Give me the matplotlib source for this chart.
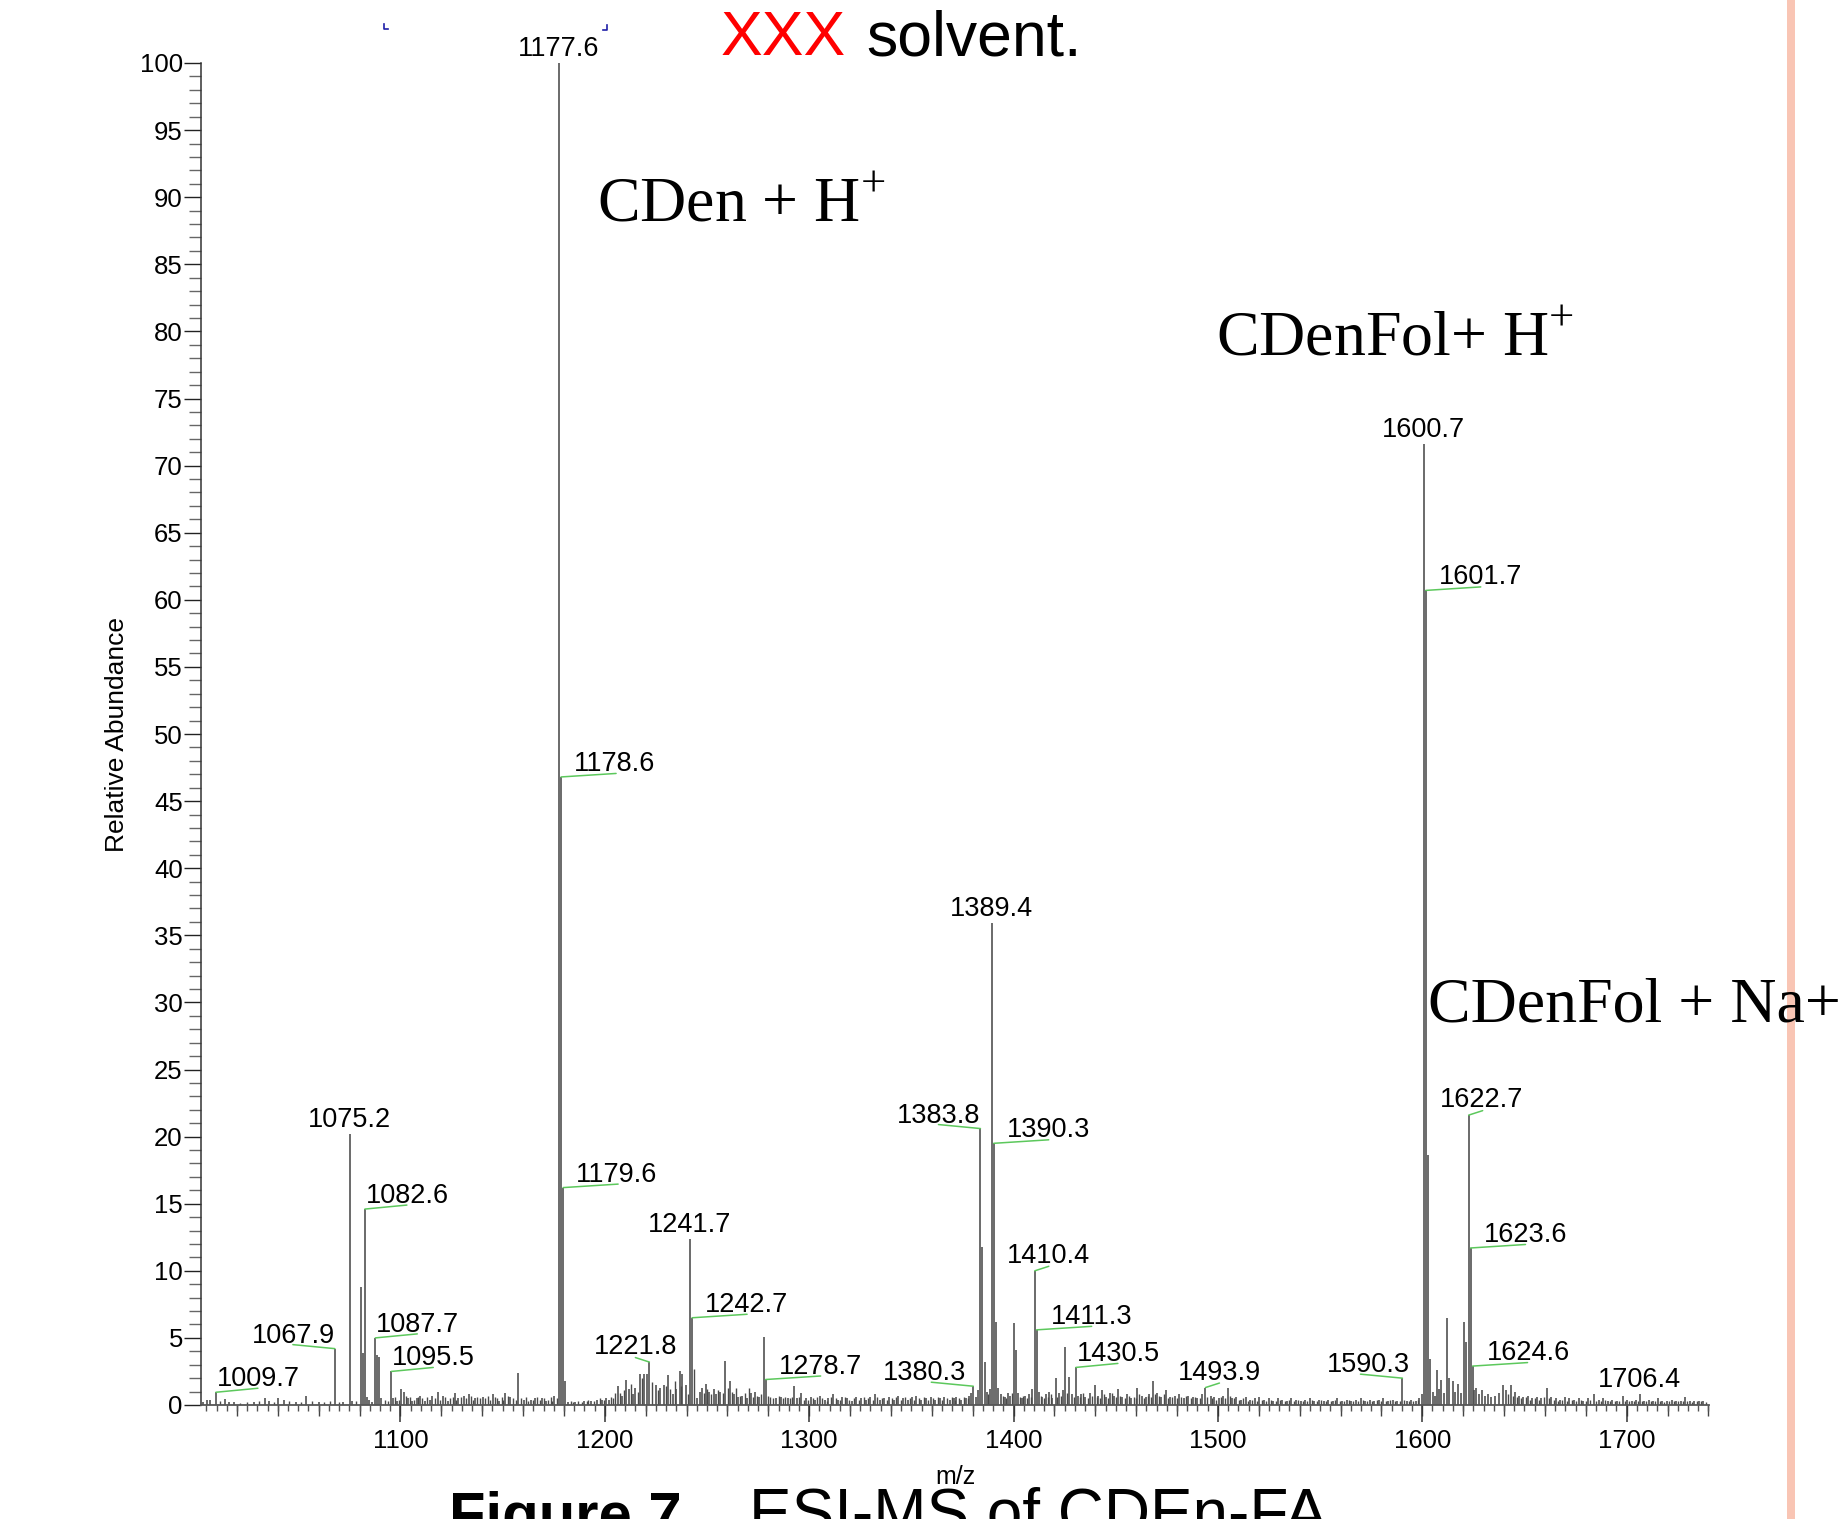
import numpy as np
import matplotlib
matplotlib.use("Agg")
import matplotlib.pyplot as plt
from matplotlib.ticker import MultipleLocator, NullFormatter
from matplotlib.lines import Line2D

plt.rcParams["font.family"] = ["Liberation Sans", "DejaVu Sans"]
plt.rcParams["mathtext.fontset"] = "custom"
plt.rcParams["mathtext.rm"] = "Liberation Serif"

# ---------------------------------------------------------------- data
# centroid peaks: m/z and relative abundance (%)
peak_mz = [
    1003.5, 1005.2, 1006.8, 1009.7, 1014.0, 1016.2, 1018.4, 1028.2, 1033.7, 1035.8,
    1040.2, 1042.8, 1048.9, 1053.8, 1059.9, 1067.9, 1071.9, 1075.2, 1076.2, 1080.6,
    1081.6, 1082.6, 1083.6, 1084.6, 1086.0, 1087.7, 1088.7, 1089.7, 1090.5, 1095.5,
    1096.4, 1098.1, 1100.5, 1101.8, 1103.6, 1105.8, 1107.9, 1109.5, 1111.9, 1114.5,
    1115.6, 1118.2, 1120.6, 1123.2, 1126.5, 1128.3, 1130.9, 1133.3, 1136.4, 1140.3,
    1145.1, 1148.4, 1151.2, 1153.8, 1157.5, 1160.4, 1163.7, 1165.8, 1169.1, 1171.3,
    1175.2, 1177.6, 1178.6, 1179.6, 1180.6, 1182.2, 1185.5, 1189.9, 1193.2, 1196.4,
    1198.6, 1200.8, 1201.9, 1206.3, 1208.5, 1210.2, 1211.7, 1213.9, 1215.0, 1217.2,
    1219.4, 1220.5, 1221.8, 1224.9, 1227.1, 1228.8, 1231.0, 1233.2, 1235.0, 1236.9,
    1238.0, 1239.5, 1241.7, 1242.7, 1245.0, 1246.6, 1247.7, 1249.4, 1251.0, 1253.2,
    1254.3, 1256.4, 1259.0, 1261.2, 1263.0, 1265.1, 1267.3, 1269.5, 1271.7, 1273.4,
    1275.6, 1277.7, 1278.7, 1283.9, 1286.3, 1289.5, 1292.8, 1294.0, 1296.2, 1298.5,
    1300.8, 1302.9, 1305.1, 1307.6, 1309.4, 1311.7, 1314.0, 1316.2, 1318.5, 1320.9,
    1323.1, 1325.4, 1327.8, 1330.0, 1332.0, 1334.6, 1336.8, 1339.1, 1341.5, 1343.6,
    1345.9, 1348.2, 1350.4, 1352.3, 1354.9, 1357.1, 1359.5, 1361.6, 1364.0, 1366.2,
    1368.7, 1370.8, 1372.0, 1374.5, 1376.6, 1378.3, 1379.4, 1380.3, 1381.5, 1382.6,
    1383.8, 1384.8, 1385.8, 1386.8, 1388.3, 1389.4, 1390.3, 1391.3, 1392.3, 1393.8,
    1395.6, 1397.2, 1398.5, 1400.2, 1401.3, 1402.4, 1404.0, 1405.7, 1407.5, 1409.2,
    1410.4, 1411.3, 1412.3, 1414.0, 1415.8, 1417.5, 1419.0, 1420.6, 1422.3, 1424.0,
    1425.2, 1427.3, 1428.8, 1430.5, 1431.6, 1433.2, 1435.0, 1437.4, 1439.8, 1441.5,
    1443.2, 1445.0, 1447.0, 1449.0, 1451.0, 1453.2, 1455.4, 1457.6, 1460.5, 1462.8,
    1464.9, 1466.5, 1468.2, 1470.2, 1472.3, 1474.5, 1476.6, 1478.9, 1481.0, 1483.3,
    1485.5, 1487.7, 1489.9, 1492.1, 1493.9, 1496.4, 1498.0, 1500.4, 1502.4, 1504.7,
    1506.9, 1509.0, 1511.3, 1513.5, 1515.8, 1518.0, 1520.3, 1522.5, 1524.8, 1527.0,
    1529.3, 1531.5, 1533.7, 1536.0, 1538.3, 1540.5, 1542.7, 1545.0, 1547.2, 1549.5,
    1551.7, 1554.0, 1556.3, 1558.5, 1560.7, 1563.0, 1565.2, 1567.5, 1569.8, 1572.0,
    1574.3, 1576.5, 1578.8, 1581.0, 1583.3, 1585.5, 1587.8, 1590.3, 1592.4, 1594.6,
    1596.8, 1598.6, 1599.7, 1600.7, 1601.7, 1602.7, 1603.7, 1605.2, 1606.3, 1607.4,
    1608.4, 1609.4, 1610.8, 1612.0, 1613.3, 1615.0, 1616.2, 1617.5, 1618.8, 1620.6,
    1621.6, 1622.7, 1623.6, 1624.6, 1625.4, 1626.3, 1627.6, 1629.0, 1630.5, 1632.0,
    1633.8, 1635.5, 1637.5, 1639.7, 1641.0, 1643.3, 1645.3, 1647.4, 1649.5, 1651.8,
    1653.9, 1656.0, 1658.3, 1661.0, 1663.2, 1665.4, 1667.5, 1669.8, 1672.0, 1674.3,
    1676.5, 1678.8, 1681.0, 1684.1, 1686.3, 1688.5, 1690.7, 1693.0, 1695.2, 1698.0,
    1700.2, 1702.4, 1704.5, 1706.4, 1708.6, 1710.7, 1713.0, 1715.2, 1717.4, 1719.6,
    1722.0, 1724.2, 1726.4, 1728.6, 1730.8, 1733.0, 1735.3, 1737.5,
]
peak_int = [
    0.2, 0.35, 0.4, 0.95, 0.45, 0.2, 0.2, 0.2, 0.5, 0.3,
    0.5, 0.4, 0.2, 0.7, 0.2, 4.2, 0.2, 20.2, 0.3, 8.8,
    3.9, 14.6, 0.6, 0.4, 0.2, 5.0, 3.7, 3.6, 0.5, 2.5,
    0.5, 0.3, 1.2, 1.0, 0.5, 0.3, 0.5, 0.7, 0.3, 0.4,
    0.7, 1.0, 0.7, 0.3, 0.9, 0.5, 0.7, 0.8, 0.5, 0.6,
    0.8, 0.3, 0.9, 0.6, 2.4, 0.4, 0.4, 0.5, 0.5, 0.3,
    0.7, 100.0, 46.8, 16.2, 1.8, 0.2, 0.2, 0.3, 0.3, 0.4,
    0.4, 0.5, 0.4, 1.4, 0.7, 1.9, 1.2, 0.8, 1.3, 2.3,
    2.3, 2.3, 3.2, 1.5, 1.3, 1.5, 2.2, 0.8, 1.2, 2.5,
    2.3, 1.5, 12.4, 6.5, 0.5, 1.0, 1.3, 1.6, 1.0, 1.2,
    0.8, 1.0, 3.3, 1.8, 0.8, 0.6, 0.7, 0.5, 0.9, 1.0,
    0.6, 5.1, 1.9, 0.5, 0.6, 0.5, 1.4, 0.5, 0.9, 0.5,
    0.6, 0.4, 0.7, 0.4, 0.5, 0.8, 0.4, 0.6, 0.5, 0.3,
    0.6, 0.5, 0.4, 0.6, 0.8, 0.4, 0.5, 0.6, 0.4, 0.7,
    0.5, 0.4, 0.6, 0.7, 0.4, 0.5, 0.6, 0.4, 0.5, 0.6,
    0.4, 0.5, 0.6, 0.4, 0.5, 0.7, 0.9, 1.4, 0.6, 1.1,
    20.6, 11.8, 3.2, 1.0, 1.2, 35.9, 19.5, 6.2, 1.3, 0.8,
    0.6, 0.9, 0.7, 6.1, 4.1, 0.9, 0.5, 0.7, 0.8, 1.2,
    10.0, 5.6, 1.0, 0.6, 0.8, 1.0, 0.5, 2.0, 0.9, 1.1,
    4.3, 2.1, 0.8, 2.8, 0.7, 0.8, 0.6, 0.9, 1.5, 0.7,
    1.1, 0.6, 0.9, 0.7, 1.2, 0.6, 0.8, 0.5, 1.3, 0.7,
    0.6, 0.8, 1.8, 0.9, 0.6, 1.1, 0.6, 0.7, 0.8, 0.5,
    0.7, 0.6, 0.5, 0.8, 1.3, 0.7, 0.6, 0.5, 0.7, 1.3,
    0.5, 0.6, 0.4, 0.6, 0.4, 0.5, 0.6, 0.4, 0.5, 0.3,
    0.5, 0.4, 0.3, 0.5, 0.4, 0.3, 0.4, 0.5, 0.3, 0.4,
    0.3, 0.4, 0.3, 0.5, 0.3, 0.4, 0.3, 0.4, 0.5, 0.3,
    0.4, 0.3, 0.4, 0.5, 0.3, 0.4, 0.3, 2.0, 0.3, 0.4,
    0.3, 0.5, 0.8, 71.6, 60.7, 18.6, 3.4, 1.0, 0.7, 2.6,
    1.2, 1.9, 0.9, 6.5, 2.0, 1.8, 1.0, 1.6, 0.9, 6.2,
    4.7, 21.6, 11.7, 2.9, 1.1, 1.3, 0.8, 1.1, 0.7, 0.8,
    0.6, 0.7, 0.9, 1.5, 1.1, 1.5, 1.0, 0.7, 0.6, 0.7,
    0.5, 0.6, 0.5, 1.3, 0.6, 0.5, 0.4, 0.6, 0.5, 0.4,
    0.5, 0.3, 0.5, 0.8, 0.4, 0.5, 0.3, 0.4, 0.3, 0.7,
    0.4, 0.3, 0.4, 0.8, 0.3, 0.4, 0.3, 0.5, 0.3, 0.3,
    0.4, 0.3, 0.3, 0.6, 0.3, 0.3, 0.3, 0.3,
]

# low-level chemical noise between the main centroids
noise_mz = [
    1011.5, 1021.3, 1025.0, 1030.6, 1038.0, 1045.5, 1051.2, 1056.7, 1062.5, 1065.3,
    1070.0, 1078.4, 1092.3, 1093.9, 1097.2, 1099.2, 1102.7, 1104.6, 1106.8, 1108.7,
    1110.6, 1113.1, 1116.8, 1119.4, 1121.8, 1124.4, 1125.5, 1127.4, 1129.6, 1132.1,
    1134.6, 1135.5, 1137.6, 1138.9, 1141.6, 1142.8, 1143.9, 1146.5, 1147.4, 1149.7,
    1150.4, 1152.4, 1155.0, 1156.3, 1158.8, 1161.6, 1162.5, 1164.8, 1167.0, 1168.1,
    1170.2, 1172.4, 1173.6, 1174.3, 1176.4, 1183.4, 1184.3, 1187.0, 1188.6, 1191.3,
    1192.0, 1194.7, 1197.5, 1199.7, 1203.0, 1204.2, 1205.2, 1207.3, 1209.4, 1212.8,
    1216.1, 1218.3, 1223.0, 1226.0, 1230.0, 1232.1, 1234.1, 1237.5, 1240.6, 1243.7,
    1248.5, 1250.2, 1252.1, 1255.3, 1257.6, 1260.1, 1262.1, 1264.0, 1266.2, 1268.4,
    1270.6, 1272.5, 1274.5, 1276.6, 1279.8, 1281.0, 1282.2, 1285.1, 1287.4, 1288.4,
    1290.6, 1291.6, 1295.1, 1297.3, 1299.6, 1301.8, 1304.0, 1306.3, 1308.5, 1310.6,
    1312.9, 1315.1, 1317.3, 1319.6, 1322.0, 1324.2, 1326.6, 1328.9, 1331.1, 1333.3,
    1335.7, 1338.0, 1340.3, 1342.5, 1344.8, 1347.1, 1349.3, 1351.4, 1353.6, 1356.0,
    1358.3, 1360.6, 1362.8, 1365.1, 1367.4, 1369.7, 1371.4, 1373.3, 1375.6, 1377.5,
    1387.6, 1394.7, 1396.4, 1399.3, 1403.2, 1404.8, 1406.6, 1408.4, 1413.2, 1414.9,
    1416.7, 1418.3, 1421.5, 1423.2, 1426.3, 1429.6, 1432.4, 1434.1, 1436.2, 1438.6,
    1440.6, 1442.3, 1444.1, 1446.0, 1448.0, 1450.0, 1452.1, 1454.3, 1456.5, 1458.9,
    1459.7, 1461.6, 1463.8, 1465.7, 1467.3, 1469.2, 1471.3, 1473.4, 1475.5, 1477.7,
    1480.0, 1482.1, 1484.4, 1486.6, 1488.8, 1491.0, 1494.9, 1497.2, 1499.2, 1501.4,
    1503.5, 1505.8, 1508.0, 1510.2, 1512.4, 1514.6, 1516.9, 1519.1, 1521.4, 1523.6,
    1525.9, 1528.2, 1530.4, 1532.6, 1534.8, 1537.1, 1539.4, 1541.6, 1543.8, 1546.1,
    1548.3, 1550.6, 1552.8, 1555.1, 1557.4, 1559.6, 1561.9, 1564.1, 1566.3, 1568.6,
    1570.9, 1573.1, 1575.4, 1577.6, 1579.9, 1582.2, 1584.4, 1586.6, 1588.9, 1591.3,
    1593.5, 1595.7, 1597.7, 1642.1, 1644.3, 1646.3, 1648.5, 1650.6, 1652.8, 1655.0,
    1657.1, 1659.6, 1662.1, 1664.3, 1666.5, 1668.6, 1670.9, 1673.1, 1675.4, 1677.6,
    1679.9, 1682.2, 1685.2, 1687.4, 1689.6, 1691.8, 1694.1, 1696.5, 1699.0, 1701.3,
    1703.4, 1705.4, 1707.5, 1709.7, 1711.9, 1714.1, 1716.3, 1718.5, 1720.8, 1723.1,
    1725.3, 1727.5, 1729.7, 1731.9, 1734.2, 1736.4, 1738.6,
]
noise_int = [
    0.3, 0.15, 0.2, 0.3, 0.2, 0.3, 0.25, 0.3, 0.2, 0.3,
    0.25, 0.3, 0.4, 0.3, 0.6, 0.4, 0.7, 0.6, 0.4, 0.6,
    0.5, 0.6, 0.5, 0.4, 0.6, 0.5, 0.6, 0.4, 0.6, 0.5,
    0.7, 0.4, 0.6, 0.5, 0.5, 0.7, 0.4, 0.6, 0.5, 0.6,
    0.4, 0.7, 0.5, 0.4, 0.5, 0.6, 0.3, 0.4, 0.6, 0.4,
    0.5, 0.4, 0.6, 0.3, 0.5, 0.3, 0.2, 0.3, 0.2, 0.3,
    0.4, 0.3, 0.5, 0.4, 0.6, 0.5, 0.9, 0.9, 1.1, 1.6,
    1.0, 2.0, 1.7, 1.1, 1.4, 1.2, 1.8, 1.4, 0.8, 2.7,
    0.9, 1.2, 0.8, 1.1, 0.9, 1.3, 1.0, 1.3, 0.7, 0.9,
    1.3, 0.6, 0.7, 0.8, 0.7, 0.6, 0.5, 0.7, 0.5, 0.6,
    0.5, 0.6, 0.6, 0.4, 0.4, 0.5, 0.6, 0.5, 0.3, 0.6,
    0.5, 0.4, 0.6, 0.4, 0.5, 0.4, 0.6, 0.5, 0.4, 0.6,
    0.5, 0.4, 0.5, 0.6, 0.4, 0.6, 0.5, 0.4, 0.5, 0.6,
    0.4, 0.5, 0.6, 0.4, 0.5, 0.6, 0.4, 0.5, 0.6, 0.5,
    0.8, 0.7, 0.5, 0.9, 0.6, 0.7, 0.5, 0.6, 0.7, 0.5,
    0.6, 0.8, 0.6, 0.7, 0.9, 0.6, 0.6, 0.9, 0.5, 0.7,
    0.6, 0.5, 0.8, 0.5, 0.9, 0.6, 0.7, 0.5, 0.7, 0.6,
    0.5, 0.8, 0.5, 0.7, 0.6, 0.8, 0.7, 0.8, 0.5, 0.6,
    0.5, 0.6, 0.7, 0.5, 0.6, 0.5, 0.6, 0.5, 0.4, 0.6,
    0.5, 0.7, 0.5, 0.4, 0.5, 0.3, 0.4, 0.3, 0.4, 0.3,
    0.4, 0.3, 0.4, 0.3, 0.4, 0.3, 0.4, 0.3, 0.3, 0.4,
    0.3, 0.4, 0.3, 0.3, 0.4, 0.3, 0.3, 0.4, 0.3, 0.3,
    0.4, 0.3, 0.3, 0.4, 0.3, 0.3, 0.4, 0.3, 0.3, 0.4,
    0.3, 0.3, 0.4, 0.8, 0.7, 0.6, 0.5, 0.6, 0.4, 0.5,
    0.4, 0.6, 0.5, 0.4, 0.3, 0.4, 0.3, 0.4, 0.3, 0.4,
    0.3, 0.4, 0.3, 0.3, 0.4, 0.3, 0.3, 0.3, 0.3, 0.3,
    0.3, 0.3, 0.3, 0.3, 0.3, 0.3, 0.3, 0.2, 0.3, 0.3,
    0.3, 0.3, 0.3, 0.2, 0.3, 0.3, 0.2,
]

# peaks carrying an m/z label
label_mz = [1009.7, 1067.9, 1075.2, 1082.6, 1087.7, 1095.5, 1177.6, 1178.6, 1179.6,
            1221.8, 1241.7, 1242.7, 1278.7, 1380.3, 1383.8, 1389.4, 1390.3, 1410.4,
            1411.3, 1430.5, 1493.9, 1590.3, 1600.7, 1601.7, 1622.7, 1623.6, 1624.6,
            1706.4]

x_range = (1002.4, 1740.3)
y_range = (0, 100)
x_major = 100
x_mid = 20
x_minor = 5
y_major = 5
y_minor = 1

# label placement mode per label: (mode, text x-offset in pixels)
label_place = {
    1009.7: ("R", 1), 1067.9: ("l", 0), 1075.2: ("c", 0), 1082.6: ("R", 1),
    1087.7: ("R", 1), 1095.5: ("R", 1), 1177.6: ("c", 0), 1178.6: ("r", 13),
    1179.6: ("r", 13), 1221.8: ("cl", -14), 1241.7: ("c", 0), 1242.7: ("r", 13),
    1278.7: ("r", 13), 1380.3: ("l", -7), 1383.8: ("l", 0), 1389.4: ("c", 0),
    1390.3: ("r", 13), 1410.4: ("cr", 14), 1411.3: ("r", 14), 1430.5: ("R", 1),
    1493.9: ("cr", 14), 1590.3: ("l", 8), 1600.7: ("c", 0), 1601.7: ("r", 13),
    1622.7: ("cr", 13), 1623.6: ("r", 13), 1624.6: ("r", 14), 1706.4: ("c", 0),
}

# ---------------------------------------------------------------- figure
W, H = 1844, 1519
fig = plt.figure(figsize=(W / 100, H / 100), dpi=100)
fig.patch.set_facecolor("white")

ax_l, ax_r, ax_t, ax_b = 201, 1709, 63, 1405
ax = fig.add_axes([ax_l / W, 1 - ax_b / H, (ax_r - ax_l) / W, (ax_b - ax_t) / H])
ax.set_facecolor("white")

peak_color = "#4a4a4a"
ax.vlines(noise_mz, 0, noise_int, color=peak_color, lw=1.0, zorder=2)
ax.vlines(peak_mz, 0, peak_int, color=peak_color, lw=1.15, zorder=2)

ax.set_xlim(*x_range)
ax.set_ylim(*y_range)

for s in ("top", "right"):
    ax.spines[s].set_visible(False)
ax.spines["left"].set_color("#333333")
ax.spines["left"].set_linewidth(1.1)
ax.spines["bottom"].set_color("#555555")
ax.spines["bottom"].set_linewidth(1.3)

ax.xaxis.set_major_locator(MultipleLocator(x_major))
ax.xaxis.set_minor_locator(MultipleLocator(x_minor))
ax.yaxis.set_major_locator(MultipleLocator(y_major))
ax.yaxis.set_minor_locator(MultipleLocator(y_minor))
ax.tick_params(axis="x", which="major", direction="out", length=12, width=1.1,
               color="#333333", labelsize=18.5, pad=5)
ax.tick_params(axis="x", which="minor", direction="out", length=4, width=1.0,
               color="#555555")
ax.tick_params(axis="y", which="major", direction="out", length=12.3, width=1.0,
               color="#222222", labelsize=18.5, pad=0.8)
ax.tick_params(axis="y", which="minor", direction="out", length=8.6, width=1.0,
               color="#666666")

# intermediate x ticks every 20 units
sec = ax.secondary_xaxis("bottom")
sec.xaxis.set_major_locator(MultipleLocator(x_mid))
sec.xaxis.set_major_formatter(NullFormatter())
sec.xaxis.set_minor_locator(MultipleLocator(1000))
sec.tick_params(axis="x", which="major", direction="out", length=8, width=1.0,
                color="#444444")
sec.spines["bottom"].set_visible(False)

ax.set_ylabel("Relative Abundance", fontsize=19)
ax.yaxis.set_label_coords(-0.048, 0.5)
ax.set_xlabel("m/z", fontsize=18)
ax.xaxis.set_label_coords(0.5, -0.045)

# ---------------------------------------------------------------- peak labels
green = "#5cc85c"
lab_fs = 19.5
int_of = dict(zip(peak_mz, peak_int))
line_geom = {"r": (55, 3.5), "R": (42, 4), "l": (-42, 4), "cr": (14, 4.5),
             "cl": (-14, 4.5)}
for mz in label_mz:
    y = int_of[mz]
    mode, dx = label_place[mz]
    txt = f"{mz:.1f}"
    if mode == "c":
        ha, dy = "center", 7
    elif mode in ("r", "R"):
        ha, dy = "left", 6
    elif mode == "l":
        ha, dy = "right", 6
    else:
        ha, dy = "center", 8
    ax.annotate(txt, xy=(mz, y), xytext=(dx, dy), textcoords="offset pixels",
                ha=ha, va="baseline", fontsize=lab_fs, color="black",
                annotation_clip=False, zorder=4)
    if mode != "c":
        lx, ly = line_geom[mode]
        ax.annotate("", xy=(mz, y), xytext=(lx, ly), textcoords="offset pixels",
                    annotation_clip=False, zorder=3,
                    arrowprops=dict(arrowstyle="-", color=green, lw=1.1,
                                    shrinkA=0, shrinkB=0))


def fx(px):
    return px / W


def fy(py):
    return 1 - py / H


# ---------------------------------------------------------------- annotations
# pale vertical rule at the right edge (behind the text)
fig.add_artist(Line2D([fx(1791), fx(1791)], [0, 1], color="#f9c5b4",
                      lw=8 * 0.72, zorder=2))

serif = ["Liberation Serif", "DejaVu Serif"]
fig.text(fx(597), fy(221), r"CDen + H$^{+}$", fontsize=46, family=serif,
         va="baseline", ha="left", zorder=5)
fig.text(fx(1216), fy(356), r"CDenFol+ H$^{+}$", fontsize=46, family=serif,
         va="baseline", ha="left", zorder=5)
fig.text(fx(1428), fy(1021), "CDenFol + Na+", fontsize=46, family=serif,
         va="baseline", ha="left", zorder=5)

fig.text(fx(721), fy(55), "XXX", fontsize=45, color="#ff0000",
         va="baseline", ha="left", zorder=5)
fig.text(fx(866), fy(55), "solvent.", fontsize=45, color="black",
         va="baseline", ha="left", zorder=5)

fig.text(fx(449), fy(1534), "Figure 7.", fontsize=43, fontweight="bold",
         va="baseline", ha="left", zorder=5)
fig.text(fx(749), fy(1534), "ESI-MS of CDEn-FA", fontsize=46,
         va="baseline", ha="left", zorder=5)

# small blue corner marks
blue = "#1f1fa8"
fig.add_artist(Line2D([fx(384), fx(384), fx(388)], [fy(24), fy(29), fy(29)],
                      color=blue, lw=1.2))
fig.add_artist(Line2D([fx(603), fx(607), fx(607)], [fy(30), fy(30), fy(25)],
                      color=blue, lw=1.2))

fig.savefig("out.png", dpi=100, facecolor="white")
